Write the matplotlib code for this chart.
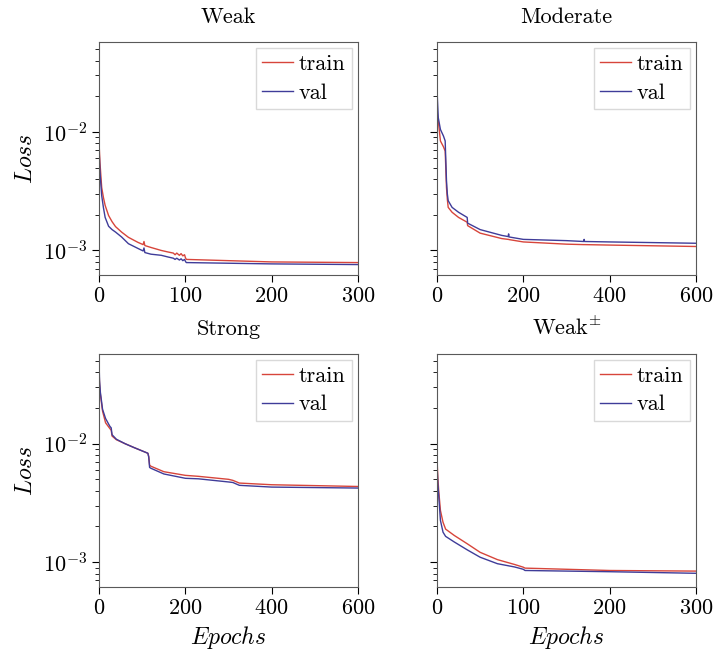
import matplotlib
matplotlib.use("Agg")
import matplotlib.pyplot as plt

plt.rcParams["font.family"] = "serif"
plt.rcParams["font.serif"] = ["cmr10"]
plt.rcParams["mathtext.fontset"] = "cm"
plt.rcParams["axes.formatter.use_mathtext"] = True
plt.rcParams["font.size"] = 16

TRAIN_COLOR = "#d7453b"
VAL_COLOR = "#3f3c99"

# --- Weak ---
weak_epochs = [0, 1, 3, 5, 7, 11, 15, 19, 26, 34, 45, 51, 52, 53, 60, 72, 80, 86, 88,
               90, 93, 95, 97, 99, 100, 101, 150, 200, 300]
weak_train = [7.9e-3, 5.5e-3, 3.4e-3, 2.8e-3, 2.4e-3, 1.97e-3, 1.75e-3, 1.59e-3, 1.43e-3,
              1.29e-3, 1.17e-3, 1.12e-3, 1.19e-3, 1.10e-3, 1.06e-3, 1.00e-3, 0.97e-3,
              0.95e-3, 0.92e-3, 0.95e-3, 0.91e-3, 0.94e-3, 0.90e-3, 0.92e-3, 0.87e-3,
              0.84e-3, 0.82e-3, 0.80e-3, 0.79e-3]
weak_val = [7.1e-3, 4.6e-3, 2.9e-3, 2.3e-3, 1.9e-3, 1.6e-3, 1.50e-3, 1.43e-3, 1.30e-3,
            1.14e-3, 1.04e-3, 0.99e-3, 1.05e-3, 0.96e-3, 0.93e-3, 0.91e-3, 0.88e-3,
            0.86e-3, 0.84e-3, 0.86e-3, 0.83e-3, 0.85e-3, 0.82e-3, 0.84e-3, 0.81e-3,
            0.79e-3, 0.78e-3, 0.77e-3, 0.76e-3]

# --- Moderate ---
mod_epochs = [0, 1, 3, 8, 15, 19, 20, 22, 24, 26, 35, 50, 70, 71, 100, 150, 165, 166, 167,
              200, 300, 340, 341, 342, 400, 600]
mod_train = [16e-3, 14e-3, 12.4e-3, 8.4e-3, 7.5e-3, 6.9e-3, 5.5e-3, 3.4e-3, 2.7e-3,
             2.31e-3, 2.1e-3, 1.9e-3, 1.73e-3, 1.62e-3, 1.40e-3, 1.26e-3, 1.24e-3,
             1.24e-3, 1.235e-3, 1.18e-3, 1.13e-3, 1.12e-3, 1.12e-3, 1.12e-3, 1.11e-3,
             1.08e-3]
mod_val = [26.5e-3, 19e-3, 13.2e-3, 10.5e-3, 9.25e-3, 8.4e-3, 6.5e-3, 3.9e-3, 3.0e-3,
           2.63e-3, 2.31e-3, 2.1e-3, 1.9e-3, 1.7e-3, 1.5e-3, 1.34e-3, 1.31e-3, 1.38e-3,
           1.30e-3, 1.24e-3, 1.21e-3, 1.19e-3, 1.24e-3, 1.19e-3, 1.18e-3, 1.15e-3]

# --- Strong ---
strong_epochs = [0, 1, 3, 8, 15, 25, 28, 30, 40, 60, 80, 113, 115, 117, 120, 150, 200,
                 230, 300, 310, 325, 400, 600]
strong_train = [4.1e-2, 3.2e-2, 2.6e-2, 1.88e-2, 1.50e-2, 1.34e-2, 1.30e-2, 1.16e-2,
                1.08e-2, 1.0e-2, 0.93e-2, 0.83e-2, 0.78e-2, 0.66e-2, 0.645e-2, 0.58e-2,
                0.54e-2, 0.53e-2, 0.50e-2, 0.49e-2, 0.465e-2, 0.45e-2, 0.435e-2]
strong_val = [4.7e-2, 3.4e-2, 2.7e-2, 1.95e-2, 1.63e-2, 1.40e-2, 1.36e-2, 1.19e-2,
              1.09e-2, 1.0e-2, 0.93e-2, 0.83e-2, 0.77e-2, 0.63e-2, 0.62e-2, 0.555e-2,
              0.51e-2, 0.505e-2, 0.475e-2, 0.47e-2, 0.445e-2, 0.43e-2, 0.422e-2]

# --- Weak± ---
weakpm_epochs = [0, 1, 2, 4, 7, 10, 20, 35, 50, 70, 90, 100, 102, 200, 300]
weakpm_train = [7.5e-3, 5.2e-3, 4.0e-3, 2.73e-3, 2.17e-3, 1.9e-3, 1.68e-3, 1.43e-3,
                1.21e-3, 1.05e-3, 0.955e-3, 0.906e-3, 0.89e-3, 0.85e-3, 0.84e-3]
weakpm_val = [6.8e-3, 4.6e-3, 3.65e-3, 2.25e-3, 1.79e-3, 1.65e-3, 1.48e-3, 1.27e-3,
              1.10e-3, 0.97e-3, 0.91e-3, 0.87e-3, 0.85e-3, 0.83e-3, 0.805e-3]

panels = [
    ("Weak", weak_epochs, weak_train, weak_val, 300, [0, 100, 200, 300]),
    ("Moderate", mod_epochs, mod_train, mod_val, 600, [0, 200, 400, 600]),
    ("Strong", strong_epochs, strong_train, strong_val, 600, [0, 200, 400, 600]),
    (r"Weak$^{\pm}$", weakpm_epochs, weakpm_train, weakpm_val, 300, [0, 100, 200, 300]),
]

fig, axes = plt.subplots(2, 2, figsize=(7.13, 6.53), dpi=100, sharey=True)
fig.subplots_adjust(left=0.139, right=0.976, top=0.935, bottom=0.1015,
                    wspace=0.305, hspace=0.34)

for ax, (title, ep, tr, va, xmax, xt) in zip(axes.flat, panels):
    ax.plot(ep, tr, color=TRAIN_COLOR, lw=1.0, label="train")
    ax.plot(ep, va, color=VAL_COLOR, lw=1.0, label="val")
    ax.set_yscale("log")
    ax.set_xlim(0, xmax)
    ax.set_xticks(xt)
    ax.set_ylim(6.2e-4, 5.7e-2)
    ax.set_title(title, fontsize=16, pad=14)
    for s in ax.spines.values():
        s.set_color("0.35")
    ax.tick_params(which="both", direction="out", top=False, right=False)
    ax.tick_params(which="major", length=5)
    ax.tick_params(which="minor", length=3)
    ax.legend(loc="upper right", fontsize=16, fancybox=False, edgecolor="0.85",
              framealpha=1, borderaxespad=0.25, handlelength=1.4, handletextpad=0.25,
              borderpad=0.3, labelspacing=0.4)

for ax in axes[:, 0]:
    ax.set_ylabel(r"$Loss$", fontsize=17)
for ax in axes[1, :]:
    ax.set_xlabel(r"$Epochs$", fontsize=17)

plt.savefig("out.png", dpi=100)
